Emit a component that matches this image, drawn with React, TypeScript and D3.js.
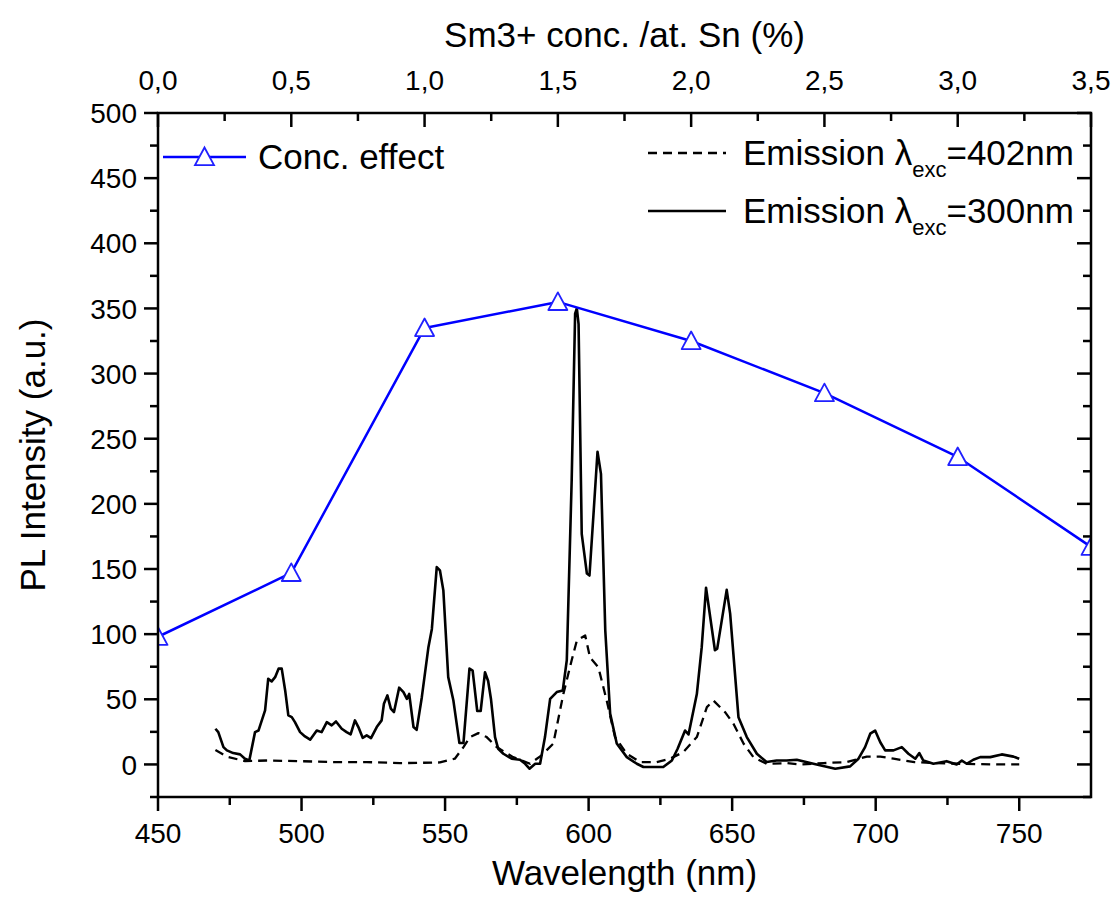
import React from "react";
import * as d3 from "d3";

const concX = [0, 0.5, 1.0, 1.5, 2.0, 2.5, 3.0, 3.5];
const concY = [98, 147, 335, 355, 325, 285, 236, 167];

const em300X = [470, 471, 472.8, 474, 476.2, 478.6, 480.3, 481.8, 483.8, 485, 487.3, 488.4, 489.6, 490.8, 492, 493.1, 494.3, 495.4, 496.6, 497.7, 499.5, 501.2, 503, 505.3, 507, 508.8, 510.5, 512, 514, 515.7, 517.1, 518.6, 519.8, 521.3, 522.7, 524.2, 526.2, 527.9, 528.7, 529.9, 531.1, 532.2, 534, 535.5, 536.7, 537.5, 539, 540.1, 541.9, 544.2, 545.4, 547.1, 548.2, 549.4, 551.1, 552.9, 555, 556.4, 558.5, 559.6, 561.2, 562.4, 563.9, 565, 566, 567.4, 568.5, 570.3, 573.2, 576.1, 577.9, 579.4, 581.4, 583.1, 584.8, 586.6, 588.9, 591, 592.4, 594.1, 595.3, 595.9, 596.5, 597.6, 599.4, 600.3, 601.7, 603.1, 604.3, 605.8, 607.5, 609.8, 613.3, 616.8, 619.1, 622.6, 626, 629, 631, 633.6, 634.8, 637.7, 639.4, 640.9, 644, 644.8, 648.1, 649.3, 652.2, 655.1, 658.6, 662, 665.5, 669, 672.5, 678.3, 685.9, 691.1, 694, 696.3, 698.1, 699.8, 701.6, 703.3, 706.2, 709.1, 711.4, 713.8, 715.2, 716.6, 720.1, 724.7, 728.2, 730, 731.7, 734, 736.4, 739.9, 743.9, 748, 750];
const em300Y = [27.4, 24.8, 13.3, 10.8, 8.7, 7.7, 4.4, 3, 24.8, 26, 41.5, 65.8, 63.7, 67, 73.5, 73.5, 56.8, 37.6, 36.3, 32.5, 24.8, 21.5, 19, 26, 24.8, 32.5, 30, 33, 27.4, 24.8, 23, 33.8, 28.7, 20.4, 22.3, 20.2, 28.7, 33.8, 46.6, 53, 42.8, 40.2, 58.9, 55.5, 50.3, 54.1, 28.7, 26.5, 51.6, 90, 104, 151.5, 149, 133.6, 67, 49, 16.4, 16.4, 73.5, 72, 41, 41, 70.7, 64, 50, 21, 12, 8.2, 4.4, 3.6, 0.5, -3.3, 0.5, 0.5, 21, 50.3, 55.5, 56.8, 80, 218, 346, 350, 338, 177, 146.5, 145, 192, 240, 223, 103, 39, 16, 5.6, 0.5, -2, -2, -2, 3, 12, 26, 23, 54, 90, 135.6, 87.6, 88.9, 134, 115.7, 36.3, 21, 8.2, 1.8, 3, 3, 3.6, 0.5, -3.3, -1.5, 4.4, 13.3, 23.6, 26, 17, 10.8, 10.8, 13.3, 8.2, 4.4, 8.7, 3, 0.5, 2.5, 0, 3, 0.5, 3.6, 5.6, 5.6, 7.7, 6, 4.4];

const em402X = [470, 474, 480.3, 487.8, 499.5, 511, 522.7, 534.3, 548.2, 553.4, 556.4, 558.7, 561.6, 564.5, 568, 573.7, 579.6, 583.6, 587.7, 591.2, 594.1, 595.9, 598.8, 600.5, 603.4, 606.3, 609.2, 613.3, 617.9, 623.7, 628.4, 633, 637.7, 641.2, 643.5, 647.6, 650.5, 654, 657.4, 662, 669, 673.7, 681.8, 689.9, 696.9, 701.6, 706.2, 713.5, 721.3, 730, 742.2, 750];
const em402Y = [11, 6, 2.5, 3, 2.5, 1.8, 1.8, 1, 1.5, 4.4, 13.3, 21, 24, 21, 13.3, 5.6, 0.5, 7, 16, 54, 80, 95, 99, 82, 74.6, 49, 21, 8.2, 1.8, 1.8, 4.4, 9.5, 21, 44, 49, 40, 31, 15.9, 5.6, 0.5, 1, 0, 1, 1.8, 6, 6, 4.4, 1.8, 1, 0.5, 0, 0];

const wlTicks = [450, 500, 550, 600, 650, 700, 750];
const intTicks = [0, 50, 100, 150, 200, 250, 300, 350, 400, 450, 500];
const concTicks = [0, 0.5, 1.0, 1.5, 2.0, 2.5, 3.0, 3.5];

const W = 1117, H = 909;
const L = 158, R = 1091, T = 113, B = 797;
const FONT = "'Liberation Sans', Arial, sans-serif";

export default function App() {
  const x = d3.scaleLinear().domain([450, 775]).range([L, R]);
  const xc = d3.scaleLinear().domain([0, 3.5]).range([L, R]);
  const y = d3.scaleLinear().domain([-25, 500]).range([B, T]);

  const line = d3.line<[number, number]>().x(d => x(d[0])).y(d => y(d[1]));
  const lineC = d3.line<[number, number]>().x(d => xc(d[0])).y(d => y(d[1]));
  const p300 = line(em300X.map((v, i) => [v, em300Y[i]]) as [number, number][]);
  const p402 = line(em402X.map((v, i) => [v, em402Y[i]]) as [number, number][]);
  const pC = lineC(concX.map((v, i) => [v, concY[i]]) as [number, number][]);

  const tri = (cx: number, cy: number, s = 9.5) =>
    `M${cx},${cy - s}L${cx + s},${cy + s * 0.85}L${cx - s},${cy + s * 0.85}Z`;

  const MAJ = 14, MIN = 8;
  const wlMinor = d3.range(475, 775, 50);
  const intMinor = d3.range(-25, 500, 50);
  const concMinor = d3.range(0.25, 3.5, 0.5);

  return (
    <svg width={W} height={H} style={{ position: "absolute", left: 0, top: 0, background: "#fff" }} fontFamily={FONT}>
      <rect x={0} y={0} width={W} height={H} fill="#fff" />
      <defs>
        <clipPath id="plot">
          <rect x={L} y={T} width={R - L} height={B - T} />
        </clipPath>
      </defs>

      {/* data */}
      <g clipPath="url(#plot)" strokeLinejoin="round">
        <path d={p402 || ""} fill="none" stroke="#000" strokeWidth={2.3} strokeDasharray="9,6" />
        <path d={p300 || ""} fill="none" stroke="#000" strokeWidth={2.6} />
        <path d={pC || ""} fill="none" stroke="#0000ff" strokeWidth={2.5} />
        {concX.map((v, i) => (
          <path key={i} d={tri(xc(v), y(concY[i]))} fill="#fff" stroke="#2020ff" strokeWidth={1.8} />
        ))}
      </g>

      {/* axes frame */}
      <g stroke="#000" strokeWidth={2.5} fill="none">
        <rect x={L} y={T} width={R - L} height={B - T} />
      </g>

      {/* ticks */}
      <g stroke="#000" strokeWidth={2.5}>
        {wlTicks.map(t => <line key={"b" + t} x1={x(t)} x2={x(t)} y1={B} y2={B + MAJ} />)}
        {wlMinor.map(t => <line key={"bm" + t} x1={x(t)} x2={x(t)} y1={B} y2={B + MIN} />)}
        {concTicks.map(t => <line key={"t" + t} x1={xc(t)} x2={xc(t)} y1={T} y2={T + MAJ} />)}
        {concMinor.map(t => <line key={"tm" + t} x1={xc(t)} x2={xc(t)} y1={T} y2={T + MIN} />)}
        {intTicks.map(t => <line key={"l" + t} x1={L - MAJ} x2={L} y1={y(t)} y2={y(t)} />)}
        {intMinor.map(t => <line key={"lm" + t} x1={L - MIN} x2={L} y1={y(t)} y2={y(t)} />)}
        {intTicks.map(t => <line key={"r" + t} x1={R - MAJ} x2={R} y1={y(t)} y2={y(t)} />)}
        {intMinor.map(t => <line key={"rm" + t} x1={R - MIN} x2={R} y1={y(t)} y2={y(t)} />)}
      </g>

      {/* tick labels */}
      <g fontSize={28} fill="#000">
        {wlTicks.map(t => (
          <text key={"bl" + t} x={x(t)} y={843} textAnchor="middle">{t}</text>
        ))}
        {concTicks.map(t => (
          <text key={"tl" + t} x={xc(t)} y={90} textAnchor="middle">{t.toFixed(1).replace(".", ",")}</text>
        ))}
        {intTicks.map(t => (
          <text key={"ll" + t} x={137} y={y(t)} dy="0.36em" textAnchor="end">{t}</text>
        ))}
      </g>

      {/* axis titles */}
      <text x={(L + R) / 2} y={47} fontSize={35} textAnchor="middle">Sm3+ conc. /at. Sn (%)</text>
      <text x={(L + R) / 2} y={885} fontSize={35} textAnchor="middle">Wavelength (nm)</text>
      <text transform={`translate(45,${(T + B) / 2}) rotate(-90)`} fontSize={35} textAnchor="middle">PL Intensity (a.u.)</text>

      {/* legend left */}
      <line x1={163} x2={246} y1={157} y2={157} stroke="#0000ff" strokeWidth={2.5} />
      <path d={tri(204.5, 157)} fill="#fff" stroke="#2020ff" strokeWidth={1.8} />
      <text x={258} y={169} fontSize={35}>Conc. effect</text>

      {/* legend right */}
      <line x1={648} x2={726} y1={153} y2={153} stroke="#000" strokeWidth={2.3} strokeDasharray="9,6" />
      <text x={743} y={165} fontSize={35}>
        Emission λ<tspan fontSize={22} dy={12}>exc</tspan><tspan dy={-12}>=402nm</tspan>
      </text>
      <line x1={648} x2={726} y1={211} y2={211} stroke="#000" strokeWidth={2.6} />
      <text x={743} y={223} fontSize={35}>
        Emission λ<tspan fontSize={22} dy={12}>exc</tspan><tspan dy={-12}>=300nm</tspan>
      </text>
    </svg>
  );
}
